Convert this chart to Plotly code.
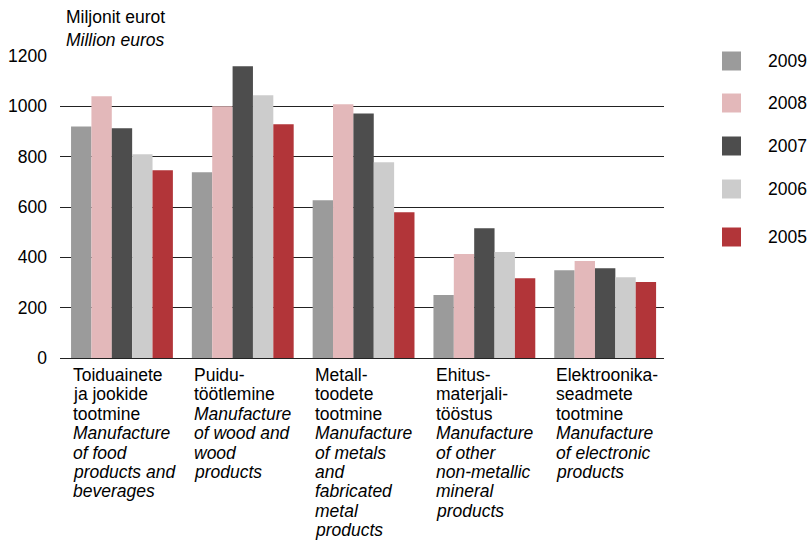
import plotly.graph_objects as go

# ---- data ----
categories = ["Toiduainete", "Puidu", "Metall", "Ehitus", "Elektroonika"]
years = ["2009", "2008", "2007", "2006", "2005"]
v2009 = [920, 738, 627, 250, 349]
v2008 = [1040, 1000, 1008, 413, 385]
v2007 = [913, 1159, 972, 516, 357]
v2006 = [810, 1044, 778, 421, 321]
v2005 = [746, 929, 579, 317, 302]
values = [v2009, v2008, v2007, v2006, v2005]
colors = ["#9b9b9b", "#e3b8ba", "#4d4d4d", "#cccccc", "#b23539"]

label_lines = [
    ["Toiduainete", "ja jookide", "tootmine", "<i>Manufacture</i>", "<i>of food</i>",
     "<i>products and</i>", "<i>beverages</i>"],
    ["Puidu-", "töötlemine", "<i>Manufacture</i>", "<i>of wood and</i>", "<i>wood</i>",
     "<i>products</i>"],
    ["Metall-", "toodete", "tootmine", "<i>Manufacture</i>", "<i>of metals</i>", "<i>and</i>",
     "<i>fabricated</i>", "<i>metal</i>", "<i>products</i>"],
    ["Ehitus-", "materjali-", "tööstus", "<i>Manufacture</i>", "<i>of other</i>",
     "<i>non-metallic</i>", "<i>mineral</i>", "<i>products</i>"],
    ["Elektroonika-", "seadmete", "tootmine", "<i>Manufacture</i>", "<i>of electronic</i>",
     "<i>products</i>"],
]
tick_vals = [0, 200, 400, 600, 800, 1000, 1200]

# ---- layout geometry ----
W, H = 809, 559
ML, MR, MT, MB = 60, 145, 56, 201
PW, PH = W - ML - MR, H - MT - MB
FONT = "Liberation Sans, Arial, sans-serif"
FS = 17.5

def px_x(x):
    return (x - ML) / PW

def px_y(y):
    return (H - MB - y) / PH

fig = go.Figure()
for yr, vals, col in zip(years, values, colors):
    fig.add_trace(go.Bar(x=categories, y=vals, name=yr, marker=dict(color=col, line=dict(width=0)),
                         showlegend=False))

annotations = []
# axis title
annotations.append(dict(text="Miljonit eurot", xref="paper", yref="paper", x=px_x(64), y=px_y(17),
                        xanchor="left", yanchor="middle", showarrow=False,
                        font=dict(family=FONT, size=FS, color="#000")))
annotations.append(dict(text="<i>Million euros</i>", xref="paper", yref="paper", x=px_x(64), y=px_y(40),
                        xanchor="left", yanchor="middle", showarrow=False,
                        font=dict(family=FONT, size=FS, color="#000")))
# category labels
for k, lines in enumerate(label_lines):
    for i, line in enumerate(lines):
        annotations.append(dict(text=line, xref="x", yref="paper", x=k - 0.42, y=0,
                                xanchor="left", yanchor="middle", yshift=-(17 + 19.4 * i),
                                showarrow=False, font=dict(family=FONT, size=FS, color="#000")))
# legend
shapes = []
leg_y = [61, 103, 146, 189, 237]
for yr, col, cy in zip(years, colors, leg_y):
    shapes.append(dict(type="rect", xref="paper", yref="paper", x0=px_x(722), x1=px_x(741),
                       y0=px_y(cy - 9.5), y1=px_y(cy + 9.5), fillcolor=col, line=dict(width=0)))
    annotations.append(dict(text=yr, xref="paper", yref="paper", x=px_x(766), y=px_y(cy),
                            xanchor="left", yanchor="middle", showarrow=False,
                            font=dict(family=FONT, size=FS, color="#000")))

fig.update_layout(
    width=W, height=H, autosize=False,
    margin=dict(l=ML, r=MR, t=MT, b=MB, pad=0),
    paper_bgcolor="white", plot_bgcolor="white",
    barmode="group", bargap=0.157, bargroupgap=0,
    font=dict(family=FONT, size=FS, color="#000"),
    annotations=annotations, shapes=shapes,
    xaxis=dict(range=[-0.513, 4.487], showticklabels=False, showgrid=False, zeroline=False,
               showline=False, ticks="", automargin=False),
    yaxis=dict(range=[0, 1200], tickvals=tick_vals, showgrid=True, gridcolor="#222222",
               gridwidth=1, zeroline=True, zerolinecolor="#222222", zerolinewidth=1,
               showline=False, ticks="", ticklabelstandoff=12, automargin=False,
               tickfont=dict(family=FONT, size=FS, color="#000")),
)

fig.write_html("out.html", config={"displayModeBar": False},
               post_script="document.body.style.margin='0';")
